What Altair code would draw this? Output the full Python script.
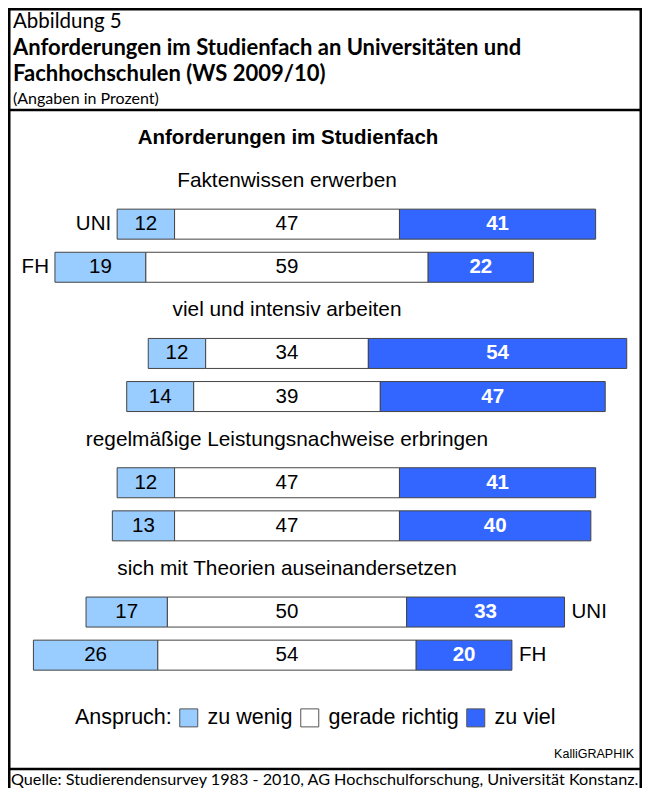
import altair as alt
import pandas as pd

# ---------------- data ----------------
groups = ["Faktenwissen erwerben", "viel und intensiv arbeiten",
          "regelmäßige Leistungsnachweise erbringen",
          "sich mit Theorien auseinandersetzen"]
types = ["UNI", "FH"]
categories = ["zu wenig", "gerade richtig", "zu viel"]
zu_wenig_uni = [12, 12, 12, 17]
gerade_richtig_uni = [47, 34, 47, 50]
zu_viel_uni = [41, 54, 41, 33]
zu_wenig_fh = [19, 14, 13, 26]
gerade_richtig_fh = [59, 39, 47, 54]
zu_viel_fh = [22, 47, 40, 20]
colors = ["#99ccff", "#ffffff", "#3366ff"]

header_line1 = "Abbildung 5"
header_bold = ["Anforderungen im Studienfach an Universitäten und",
               "Fachhochschulen (WS 2009/10)"]
header_note = "(Angaben in Prozent)"
chart_title = "Anforderungen im Studienfach"
credit = "KalliGRAPHIK"
source = "Quelle: Studierendensurvey 1983 - 2010, AG Hochschulforschung, Universität Konstanz."

# ---------------- build tables ----------------
series = {"UNI": (zu_wenig_uni, gerade_richtig_uni, zu_viel_uni),
          "FH": (zu_wenig_fh, gerade_richtig_fh, zu_viel_fh)}
recs, row_order, grp_recs, typ_recs = [], [], [], []
for gi, g in enumerate(groups):
    row_order += [f"{gi}_label", f"{gi}_UNI", f"{gi}_FH"]
    grp_recs.append(dict(row=f"{gi}_label", text=g, pos=0))
    for t in types:
        w, n, v = (s[gi] for s in series[t])
        b = [-(n / 2 + w), -n / 2, n / 2, n / 2 + v]
        for ci, c in enumerate(categories):
            recs.append(dict(row=f"{gi}_{t}", typ=t, cat=c, value=[w, n, v][ci],
                             start=b[ci], end=b[ci + 1], mid=(b[ci] + b[ci + 1]) / 2))
        if gi == 0:
            typ_recs.append(dict(row=f"{gi}_{t}", text=t, pos=b[0], side="left"))
        if gi == len(groups) - 1:
            typ_recs.append(dict(row=f"{gi}_{t}", text=t, pos=b[3], side="right"))

df = pd.DataFrame(recs)
gdf = pd.DataFrame(grp_recs)
tdf = pd.DataFrame(typ_recs)

W, H = 634, 780
BODY = "Liberation Sans"
HEAD = "Lato"

xs = alt.Scale(domain=[-58.31, 74.19], nice=False, zero=False)
ys = alt.Scale(domain=row_order, range=[151.5, 668.7], paddingInner=0, paddingOuter=0)


def X(f):
    return alt.X(f, type="quantitative", scale=xs, axis=None)


Y = alt.Y("row:N", scale=ys, axis=None)

bars = alt.Chart(df).mark_bar(size=30, stroke="#444", strokeWidth=1).encode(
    x=X("start"), x2="end", y=Y,
    color=alt.Color("cat:N", sort=categories,
                    scale=alt.Scale(domain=categories, range=colors),
                    legend=alt.Legend(title="Anspruch:", orient="none", legendX=67, legendY=699,
                                      direction="horizontal", titleOrient="left",
                                      symbolType="square", symbolSize=324,
                                      symbolStrokeColor="#555", symbolStrokeWidth=1,
                                      symbolOpacity=1, labelFontSize=21.5, titleFontSize=21.5,
                                      titleFontWeight="normal", labelFont=BODY, titleFont=BODY,
                                      labelColor="black", titleColor="black",
                                      columnPadding=5, labelOffset=8, titlePadding=6)))

num_dark = alt.Chart(df).transform_filter(alt.datum.cat != "zu viel").mark_text(
    font=BODY, fontSize=20.5, color="black").encode(x=X("mid"), y=Y, text="value:Q")
num_light = alt.Chart(df).transform_filter(alt.datum.cat == "zu viel").mark_text(
    font=BODY, fontSize=20.5, color="white", fontWeight="bold").encode(x=X("mid"), y=Y, text="value:Q")

grp_text = alt.Chart(gdf).mark_text(font=BODY, fontSize=20.8, color="black").encode(
    x=X("pos"), y=Y, text="text:N")

typ_left = alt.Chart(tdf).transform_filter(alt.datum.side == "left").mark_text(
    font=BODY, fontSize=20.5, align="right", dx=-6, color="black").encode(x=X("pos"), y=Y, text="text:N")
typ_right = alt.Chart(tdf).transform_filter(alt.datum.side == "right").mark_text(
    font=BODY, fontSize=20.5, align="left", dx=7, color="black").encode(x=X("pos"), y=Y, text="text:N")

one = pd.DataFrame({"a": [0]})


def txt(t, x, y, **kw):
    return alt.Chart(pd.DataFrame({"t": [t]})).mark_text(baseline="middle", **kw).encode(
        x=alt.value(x), y=alt.value(y), text="t:N")


def hline(y, w=2.5):
    return alt.Chart(one).mark_rule(color="black", strokeWidth=w).encode(
        x=alt.value(0), x2=alt.value(W), y=alt.value(y))


def vline(x, w=2.5):
    return alt.Chart(one).mark_rule(color="black", strokeWidth=w).encode(
        x=alt.value(x), y=alt.value(0), y2=alt.value(H))


layers = [
    bars, num_dark, num_light, grp_text, typ_left, typ_right,
    hline(1.25), hline(102), hline(761), vline(1.25), vline(632.75),
    txt(header_line1, 5, 14, font=HEAD, fontSize=20.5, align="left", color="black"),
    txt(header_bold[0], 5, 40, font=HEAD, fontSize=22, fontWeight="bold", align="left", color="black"),
    txt(header_bold[1], 5, 65.5, font=HEAD, fontSize=22, fontWeight="bold", align="left", color="black"),
    txt(header_note, 5, 90.5, font=HEAD, fontSize=16, align="left", color="black"),
    txt(chart_title, 280, 130, font=BODY, fontSize=20.5, fontWeight="bold", align="center", color="black"),
    txt(credit, 626, 746, font=BODY, fontSize=12.5, align="right", color="black"),
    txt(source, 3, 772, font=HEAD, fontSize=16.2, align="left", color="black"),
]

chart = alt.layer(*layers).properties(
    width=W, height=H, padding=0,
    autosize=alt.AutoSizeParams(type="none"),
    background="white",
).configure_view(stroke=None)

chart.save("out.html", embed_options={"renderer": "svg", "actions": False})
